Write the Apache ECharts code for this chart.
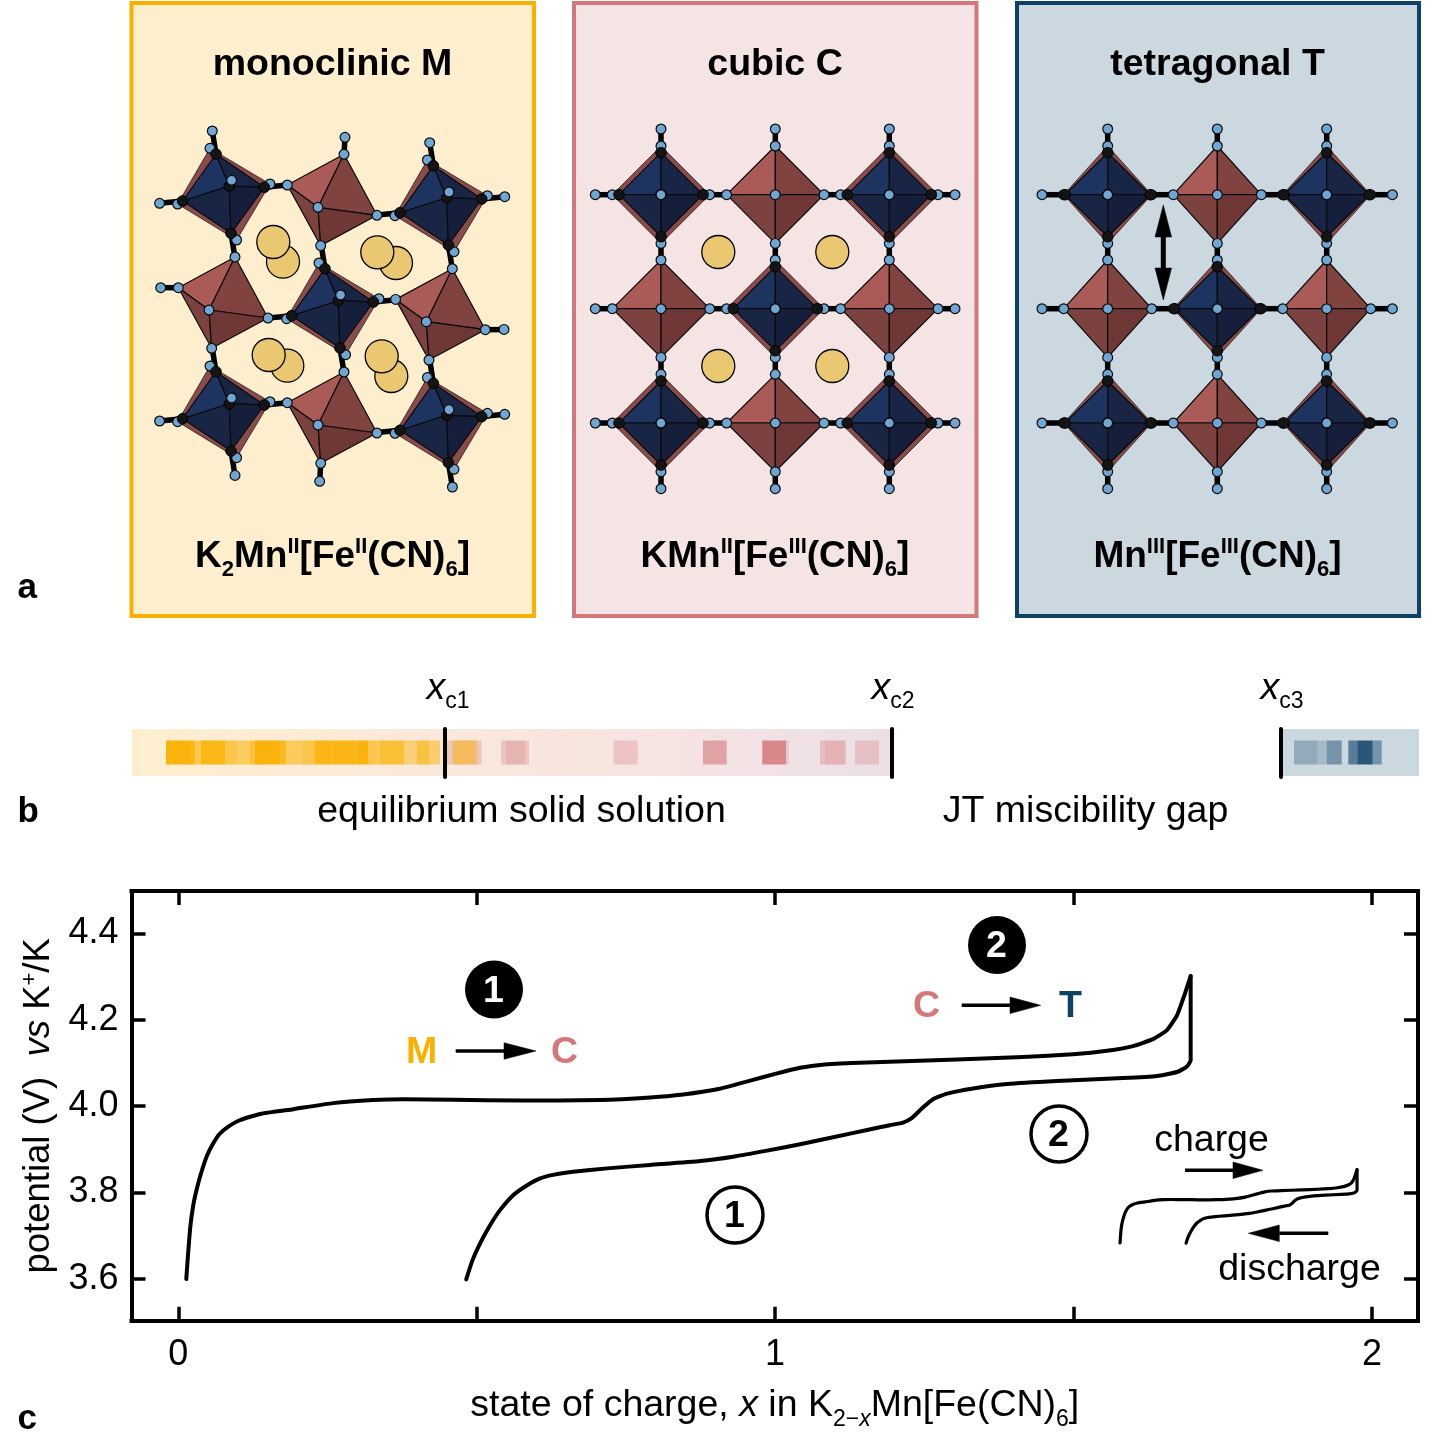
<!DOCTYPE html>
<html>
<head>
<meta charset="utf-8">
<title>K2Mn[Fe(CN)6] phase transitions</title>
<script src="https://cdn.jsdelivr.net/npm/echarts@6/dist/echarts.min.js"></script>
<style>
html, body { margin: 0; padding: 0; background: #fff; }
#chart { width: 1433px; height: 1447px; }
</style>
</head>
<body>
<div id="chart"></div>
<script>
// voltage profile: [x in K2-xMn[Fe(CN)6], potential in V]
const chargeCurve = [
  [0.0134, 3.600], [0.0159, 3.649], [0.0201, 3.720], [0.0251, 3.771], [0.0318, 3.813], [0.0402, 3.854],
  [0.0486, 3.887], [0.0586, 3.914], [0.0687, 3.935], [0.0821, 3.951], [0.1039, 3.968], [0.1374, 3.982],
  [0.1926, 3.993], [0.2596, 4.007], [0.3266, 4.014], [0.3769, 4.016], [0.4606, 4.015], [0.5729, 4.013],
  [0.7069, 4.014], [0.7906, 4.020], [0.8459, 4.027], [0.9028, 4.039], [0.9581, 4.059], [1.0034, 4.076],
  [1.0419, 4.089], [1.0871, 4.097], [1.1541, 4.101], [1.3049, 4.108], [1.4154, 4.114], [1.4992, 4.120],
  [1.5561, 4.128], [1.5997, 4.139], [1.6332, 4.155], [1.6566, 4.176], [1.6734, 4.210], [1.6868, 4.261],
  [1.6963, 4.301]
];
const dischargeCurve = [
  [1.6963, 4.301], [1.6963, 4.106], [1.6896, 4.091], [1.6734, 4.079], [1.6399, 4.070], [1.5829, 4.065],
  [1.4724, 4.058], [1.3886, 4.051], [1.3317, 4.041], [1.2881, 4.029], [1.2647, 4.016], [1.2462, 3.995],
  [1.2295, 3.973], [1.2144, 3.962], [1.1926, 3.956], [1.1541, 3.945], [1.0972, 3.928], [1.0419, 3.912],
  [0.9866, 3.897], [0.9296, 3.883], [0.8744, 3.873], [0.7906, 3.864], [0.7186, 3.856], [0.6616, 3.848],
  [0.6281, 3.841], [0.6064, 3.833], [0.5846, 3.817], [0.5611, 3.794], [0.5394, 3.760], [0.5226, 3.725],
  [0.5059, 3.683], [0.4925, 3.642], [0.4824, 3.599]
];
const xTicks = [0, 0.5, 1, 1.5, 2];
const xTickLabels = [0, 1, 2];
const yTicks = [3.6, 3.8, 4.0, 4.2, 4.4];

// panel b cells: [from, to, strength]
const amberCells = [
  [166, 190, 0.95], [190, 195, 0.9], [195, 201, 0.6], [201, 225, 0.9], [225, 237.5, 0.65], [237.5, 249.5, 0.55],
  [249.5, 255, 0.7], [255, 280, 0.95], [280, 286, 0.85], [286, 301.5, 0.55], [301.5, 303, 0.65], [303, 315, 0.65],
  [315, 331.5, 0.9], [331.5, 356.5, 0.9], [356.5, 368.5, 0.95], [368.5, 375, 0.65], [375, 380, 0.6], [380, 404, 0.75],
  [404, 416.5, 0.45], [416.5, 429, 0.7], [429, 440, 0.5], [452.7, 476.7, 0.5]
];
const pinkCells = [
  [446.7, 481.7, 0.3], [501, 529, 0.3], [506, 525, 0.2], [613.7, 637.7, 0.3], [703, 726.7, 0.6],
  [762.3, 786, 0.85], [786, 788.7, 0.25], [820, 846, 0.35], [825, 844, 0.15], [855, 879, 0.3]
];
const navyCells = [
  [1294, 1317.3, 0.3], [1317.3, 1326.7, 0.2], [1326.7, 1341.7, 0.45], [1348.3, 1357.3, 0.6], [1357.3, 1372.7, 0.85],
  [1372.7, 1381.7, 0.45]
];
const boundaries = [445, 892, 1281];

// panel a: octahedra sites. vertices go top, right, bottom, left
const monoclinic = {
  blueSites: [[229.3, 186], [338.3, 300.7], [446.7, 197.7], [229.3, 403.7], [446.7, 415.3]],
  redSites: [[318, 207.3], [209, 310], [426.3, 321.7], [318, 425]],
  blueVerts: [[-13.3, -32], [35, 1.3], [1.7, 47.3], [-46.7, 15]],
  blueRim: [[-19.3, -37.7], [40.7, -2], [7.3, 54], [-51.7, 18]],
  blueOuter: [[-17, -55], [58, -1], [5.7, 71.7], [-69.7, 17.3]],
  blueAtom: [2.3, -5.7],
  redVerts: [[26, -53], [59, 8], [2.7, 38.3], [-30.7, -22.3]],
  redOuter: [[27, -70], [77.7, 7.7], [1.7, 56.3], [-48.3, -22.3]],
  kBack: [[283, 261.7], [396, 263], [287.3, 365.7], [391.3, 376]],
  kFront: [[273.3, 242], [377.3, 252.3], [268.7, 355], [381.7, 356.3]]
};
const cubic = {
  blueSites: [[661, 194.7], [889.3, 194.7], [775.3, 308.7], [661, 423], [889.3, 423]],
  redSites: [[775.3, 194.7], [661, 308.7], [889.3, 308.7], [775.3, 423]],
  blueVerts: [[0, -42], [42, 0], [0, 42], [-42, 0]],
  blueRim: [[0, -48.7], [48.7, 0], [0, 48.7], [-48.7, 0]],
  blueOuter: [[0, -65.7], [65.7, 0], [0, 65.7], [-65.7, 0]],
  blueAtom: [0, 0],
  redVerts: [[0, -48.7], [48.7, 0], [0, 48.7], [-48.7, 0]],
  redOuter: [[0, -65.7], [65.7, 0], [0, 65.7], [-65.7, 0]],
  kBack: [],
  kFront: [[718.3, 252], [832.3, 252], [718.3, 366], [832.3, 366]]
};
const tetragonal = {
  blueSites: [[1107.7, 194.7], [1326.7, 194.7], [1217.3, 308.7], [1107.7, 423], [1326.7, 423]],
  redSites: [[1217.3, 194.7], [1107.7, 308.7], [1326.7, 308.7], [1217.3, 423]],
  blueVerts: [[0, -42], [42.7, 0], [0, 42], [-42.7, 0]],
  blueRim: [[0, -48.7], [44, 0], [0, 48.7], [-44, 0]],
  blueOuter: [[0, -65.7], [65.7, 0], [0, 65.7], [-65.7, 0]],
  blueAtom: [0, 0],
  redVerts: [[0, -48.7], [44, 0], [0, 48.7], [-44, 0]],
  redOuter: [[0, -65.7], [65.7, 0], [0, 65.7], [-65.7, 0]],
  kBack: [],
  kFront: []
};
const redTerminal = [0, 3, 1, 2]; // which vertex of each red site has a free end

const amber = '#fbb000', pink = '#d3777b', navy = '#0d4166';
const fontName = '"Liberation Sans", Arial, sans-serif';

// everything that is not the voltage curve is collected here and drawn by one custom series
const shapes = [];
const poly = (pts, fill, stroke, lw) => shapes.push({ k: 'poly', pts, fill, stroke, lw });
const seg = (a, b, lw, stroke) => shapes.push({ k: 'line', pts: [a, b], lw, stroke: stroke || '#000' });
const dot = (c, r, fill, stroke, lw) => shapes.push({ k: 'circle', pts: [c], r, fill, stroke, lw });
const box = (x0, y0, x1, y1, fill, stroke, lw) => shapes.push({ k: 'rect', pts: [[x0, y0], [x1, y1]], fill, stroke, lw });

const plus = (p, o) => [p[0] + o[0], p[1] + o[1]];
const nAtom = c => dot(c, 4.9, '#6fa6d3', '#0c0c0c', 1.2);
const cAtom = c => dot(c, 5.3, '#141414', '#000', 1);

function octahedron(c, verts, colors) {
  const v = verts.map(o => plus(c, o));
  poly([v[0], c, v[3]], colors[0], '#0a0a0a', 1.2);
  poly([v[0], v[1], c], colors[1], '#0a0a0a', 1.2);
  poly([v[3], c, v[2]], colors[2], '#0a0a0a', 1.2);
  poly([c, v[1], v[2]], colors[3], '#0a0a0a', 1.2);
}

function drawStructure(p) {
  const redColors = ['#aa5a57', '#80433f', '#7c4240', '#6f3836'];
  const blueColors = ['#1d3461', '#182544', '#182544', '#151f3b'];
  p.blueSites.forEach(c => p.blueVerts.forEach((o, i) => seg(plus(c, o), plus(c, p.blueOuter[i]), 5.5)));
  p.redSites.forEach((c, i) => {
    const d = redTerminal[i];
    seg(plus(c, p.redVerts[d]), plus(c, p.redOuter[d]), 5.5);
  });
  p.blueSites.forEach(c => {
    poly(p.blueRim.map(o => plus(c, o)), '#8a4c4a', '#2a1a1a', 0.8);
    p.blueRim.forEach(o => nAtom(plus(c, o)));
    octahedron(c, p.blueVerts, blueColors);
    p.blueVerts.forEach(o => cAtom(plus(c, o)));
    cAtom(c);
    nAtom(plus(c, p.blueAtom));
  });
  p.redSites.forEach(c => octahedron(c, p.redVerts, redColors));
  p.redSites.forEach(c => {
    p.redVerts.forEach(o => nAtom(plus(c, o)));
    nAtom(c);
  });
  p.blueSites.forEach(c => p.blueOuter.forEach(o => {
    const q = plus(c, o);
    const shared = p.redSites.some(r => p.redVerts.some(v => Math.hypot(r[0] + v[0] - q[0], r[1] + v[1] - q[1]) < 6));
    if (!shared) nAtom(q);
  }));
  p.redSites.forEach((c, i) => nAtom(plus(c, p.redOuter[redTerminal[i]])));
  p.kBack.forEach(c => dot(c, 16.5, '#eac872', '#000', 1.3));
  p.kFront.forEach(c => dot(c, 16.5, '#eac872', '#000', 1.3));
}

function arrow(x0, xBase, xTip, y, half, lw) {
  seg([x0, y], [xBase, y], lw);
  poly([[xBase, y - half], [xTip, y], [xBase, y + half]], '#000', '#000', 0.5);
}

// panel a frames
box(131.5, 3, 534, 616, '#fdefce', amber, 4);
box(574, 3, 976.5, 616, '#f5e4e4', pink, 4);
box(1017, 3, 1419, 616, '#cbd8e0', navy, 4);
drawStructure(monoclinic);
drawStructure(cubic);
drawStructure(tetragonal);
// double arrow in the tetragonal frame
seg([1163.3, 232], [1163.3, 272], 5);
poly([[1163.3, 205], [1171.6, 237], [1155, 237]], '#000', '#000', 0.5);
poly([[1163.3, 300], [1171.6, 268], [1155, 268]], '#000', '#000', 0.5);

// panel b
box(132, 729, 890, 776, {
  type: 'linear', x: 0, y: 0, x2: 1, y2: 0,
  colorStops: [
    { offset: 0, color: '#fdefce' }, { offset: 0.05, color: '#fdeed0' }, { offset: 0.42, color: '#f9e8db' },
    { offset: 0.75, color: '#f5e3e3' }, { offset: 1, color: '#ebdfe4' }
  ]
});
box(1281, 729, 1419, 776, '#cbd8e0');
pinkCells.forEach(c => shapes.push({ k: 'rect', pts: [[c[0], 740.5], [c[1], 764.5]], fill: pink, op: c[2] }));
amberCells.forEach(c => shapes.push({ k: 'rect', pts: [[c[0], 740.5], [c[1], 764.5]], fill: amber, op: c[2] }));
navyCells.forEach(c => shapes.push({ k: 'rect', pts: [[c[0], 740.5], [c[1], 764.5]], fill: navy, op: c[2] }));
boundaries.forEach(x => shapes.push({ k: 'line', pts: [[x, 729], [x, 777]], lw: 4, stroke: '#000', cap: 'round' }));

// panel c annotations
dot([494, 989.5], 29, '#000', '#000', 0);
dot([997, 945], 29, '#000', '#000', 0);
dot([735, 1215], 28, '#fff', '#000', 3.5);
dot([1059, 1134], 28, '#fff', '#000', 3.5);
arrow(455.7, 504, 536, 1051, 8.3, 3.5);
arrow(961.7, 1010, 1040.7, 1005.3, 8.3, 3.5);
arrow(1185, 1233, 1263, 1170.3, 8.3, 3.5);
arrow(1328.3, 1279.3, 1248.3, 1233.3, 8.3, 3.5);

function tokens(size, weight) {
  const base = { fontFamily: fontName, fontSize: size, fontWeight: weight, color: '#000', textBorderWidth: 0, opacity: 1 };
  const small = Math.round(size * 0.6);
  const low = Math.round(size * 0.72);
  const high = Math.round(size * 0.52);
  return {
    n: base,
    it: { ...base, fontStyle: 'italic' },
    sub: { ...base, fontSize: small, padding: [low, 0, 0, 0] },
    subit: { ...base, fontSize: small, fontStyle: 'italic', padding: [low, 0, 0, 0] },
    sup: { ...base, fontSize: small, padding: [0, 0, high, 0] }
  };
}
const textItems = [
  [333, 65, '{n|monoclinic M}', 37.5, 'bold', 'center'],
  [775.5, 65, '{n|cubic C}', 37.5, 'bold', 'center'],
  [1218, 65, '{n|tetragonal T}', 37.5, 'bold', 'center'],
  [333, 557, '{n|K}{sub|2}{n|Mn}{sup|II}{n|[Fe}{sup|II}{n|(CN)}{sub|6}{n|]}', 37, 'bold', 'center'],
  [775.5, 557, '{n|KMn}{sup|II}{n|[Fe}{sup|III}{n|(CN)}{sub|6}{n|]}', 37, 'bold', 'center'],
  [1218, 557, '{n|Mn}{sup|III}{n|[Fe}{sup|III}{n|(CN)}{sub|6}{n|]}', 37, 'bold', 'center'],
  [18, 589, '{n|a}', 35, 'bold', 'left'],
  [18, 813, '{n|b}', 35, 'bold', 'left'],
  [18, 1420, '{n|c}', 35, 'bold', 'left'],
  [427, 689, '{it|x}{sub|c1}', 37.5, 'normal', 'left'],
  [872, 689, '{it|x}{sub|c2}', 37.5, 'normal', 'left'],
  [1261, 689, '{it|x}{sub|c3}', 37.5, 'normal', 'left'],
  [522, 812, '{n|equilibrium solid solution}', 37.5, 'normal', 'center'],
  [1086, 812, '{n|JT miscibility gap}', 37.5, 'normal', 'center'],
  [422, 1053, '{m|M}', 37.5, 'bold', 'center'],
  [565, 1053, '{c|C}', 37.5, 'bold', 'center'],
  [927, 1007, '{c|C}', 37.5, 'bold', 'center'],
  [1071, 1007, '{t|T}', 37.5, 'bold', 'center'],
  [494, 992, '{w|1}', 37.5, 'bold', 'center'],
  [997, 947, '{w|2}', 37.5, 'bold', 'center'],
  [735, 1217, '{n|1}', 37.5, 'bold', 'center'],
  [1059, 1136, '{n|2}', 37.5, 'bold', 'center'],
  [1212, 1141, '{n|charge}', 37.5, 'normal', 'center'],
  [1300, 1270, '{n|discharge}', 37.5, 'normal', 'center']
];

const labelData = textItems.map(t => {
  const rich = tokens(t[3], t[4]);
  rich.m = { ...rich.n, color: amber };
  rich.c = { ...rich.n, color: pink };
  rich.t = { ...rich.n, color: navy };
  rich.w = { ...rich.n, color: '#fff' };
  return {
    value: [t[0], t[1]],
    label: {
      show: true, position: [0, 0], formatter: t[2], rich, align: t[5], verticalAlign: 'middle',
      color: '#000', textBorderWidth: 0, textShadowBlur: 0
    }
  };
});

const chart = echarts.init(document.getElementById('chart'), null, { renderer: 'canvas' });

const plainAxis = { show: false, type: 'value' };
const frameLine = { show: true, onZero: false, lineStyle: { color: '#000', width: 4, cap: 'square' } };
const frameTick = { show: true, inside: true, length: 14, lineStyle: { color: '#000', width: 3.5 } };
const xRange = { min: -0.0784, max: 2.0772 };
const yRange = { min: 3.5035, max: 4.4979 };
const curveLine = w => ({ color: '#000', width: w, cap: 'round', join: 'round' });
const curveCommon = { type: 'line', z: 3, showSymbol: false, smooth: 0.15 };

const option = {
  animation: false,
  backgroundColor: '#fff',
  grid: [
    { left: 0, top: 0, width: 1433, height: 1447 },
    { left: 131.5, top: 891, width: 1286.5, height: 429.7 },
    { left: 1107.1, top: 1149.1, width: 303.6, height: 104 }
  ],
  xAxis: [
    { ...plainAxis, gridIndex: 0, min: 0, max: 1433 },
    {
      type: 'value', gridIndex: 1, position: 'bottom', ...xRange, splitLine: { show: false },
      axisLine: frameLine,
      axisTick: { ...frameTick, customValues: xTicks },
      axisLabel: { customValues: xTickLabels, margin: 16, color: '#000', fontFamily: fontName, fontSize: 36 },
      name: '{n|state of charge, }{it|x}{n| in K}{sub|2\u2212}{subit|x}{n|Mn[Fe(CN)}{sub|6}{n|]}',
      nameLocation: 'middle', nameGap: 60,
      nameTextStyle: { rich: tokens(37.5, 'normal'), fontFamily: fontName, fontSize: 37.5 }
    },
    {
      type: 'value', gridIndex: 1, position: 'top', ...xRange, splitLine: { show: false },
      axisLine: frameLine, axisTick: { ...frameTick, customValues: xTicks }, axisLabel: { show: false }
    },
    { ...plainAxis, gridIndex: 2, ...xRange }
  ],
  yAxis: [
    { ...plainAxis, gridIndex: 0, min: 0, max: 1447, inverse: true },
    {
      type: 'value', gridIndex: 1, position: 'left', ...yRange, splitLine: { show: false },
      axisLine: frameLine,
      axisTick: { ...frameTick, customValues: yTicks },
      axisLabel: {
        customValues: yTicks, margin: 13, color: '#000', fontFamily: fontName, fontSize: 36,
        formatter: v => v.toFixed(1)
      },
      name: '{n|potential (V)  }{it|vs}{n| K}{sup|+}{n|/K}',
      nameLocation: 'middle', nameRotate: 90, nameGap: 72,
      nameTextStyle: { rich: tokens(36.5, 'normal'), fontFamily: fontName, fontSize: 36.5 }
    },
    {
      type: 'value', gridIndex: 1, position: 'right', ...yRange, splitLine: { show: false },
      axisLine: frameLine, axisTick: { ...frameTick, customValues: yTicks }, axisLabel: { show: false }
    },
    { ...plainAxis, gridIndex: 2, ...yRange }
  ],
  series: [
    {
      type: 'custom', name: 'shapes', xAxisIndex: 0, yAxisIndex: 0, z: 1, silent: true, clip: false,
      data: shapes.map((s, i) => [i]),
      renderItem: function (params, api) {
        const s = shapes[params.dataIndex];
        const pts = s.pts.map(p => api.coord(p));
        const style = { fill: s.fill || 'none', stroke: s.stroke || 'none', lineWidth: s.lw || 0, opacity: s.op === undefined ? 1 : s.op };
        if (s.k === 'poly') {
          style.lineJoin = 'round';
          return { type: 'polygon', shape: { points: pts }, style };
        }
        if (s.k === 'line') {
          return {
            type: 'line',
            shape: { x1: pts[0][0], y1: pts[0][1], x2: pts[1][0], y2: pts[1][1] },
            style: { stroke: s.stroke, lineWidth: s.lw, lineCap: s.cap || 'butt' }
          };
        }
        if (s.k === 'circle') {
          return { type: 'circle', shape: { cx: pts[0][0], cy: pts[0][1], r: s.r }, style };
        }
        return {
          type: 'rect',
          shape: { x: pts[0][0], y: pts[0][1], width: pts[1][0] - pts[0][0], height: pts[1][1] - pts[0][1] },
          style
        };
      }
    },
    {
      type: 'scatter', name: 'texts', xAxisIndex: 0, yAxisIndex: 0, z: 5, silent: true,
      symbolSize: 1, itemStyle: { color: 'rgba(0,0,0,0)' }, data: labelData
    },
    { ...curveCommon, name: 'charge', xAxisIndex: 1, yAxisIndex: 1, data: chargeCurve, lineStyle: curveLine(4) },
    { ...curveCommon, name: 'discharge', xAxisIndex: 1, yAxisIndex: 1, data: dischargeCurve, lineStyle: curveLine(4) },
    { ...curveCommon, name: 'charge inset', xAxisIndex: 3, yAxisIndex: 3, data: chargeCurve, lineStyle: curveLine(3.2) },
    { ...curveCommon, name: 'discharge inset', xAxisIndex: 3, yAxisIndex: 3, data: dischargeCurve, lineStyle: curveLine(3.2) }
  ]
};
chart.setOption(option);
</script>
</body>
</html>
